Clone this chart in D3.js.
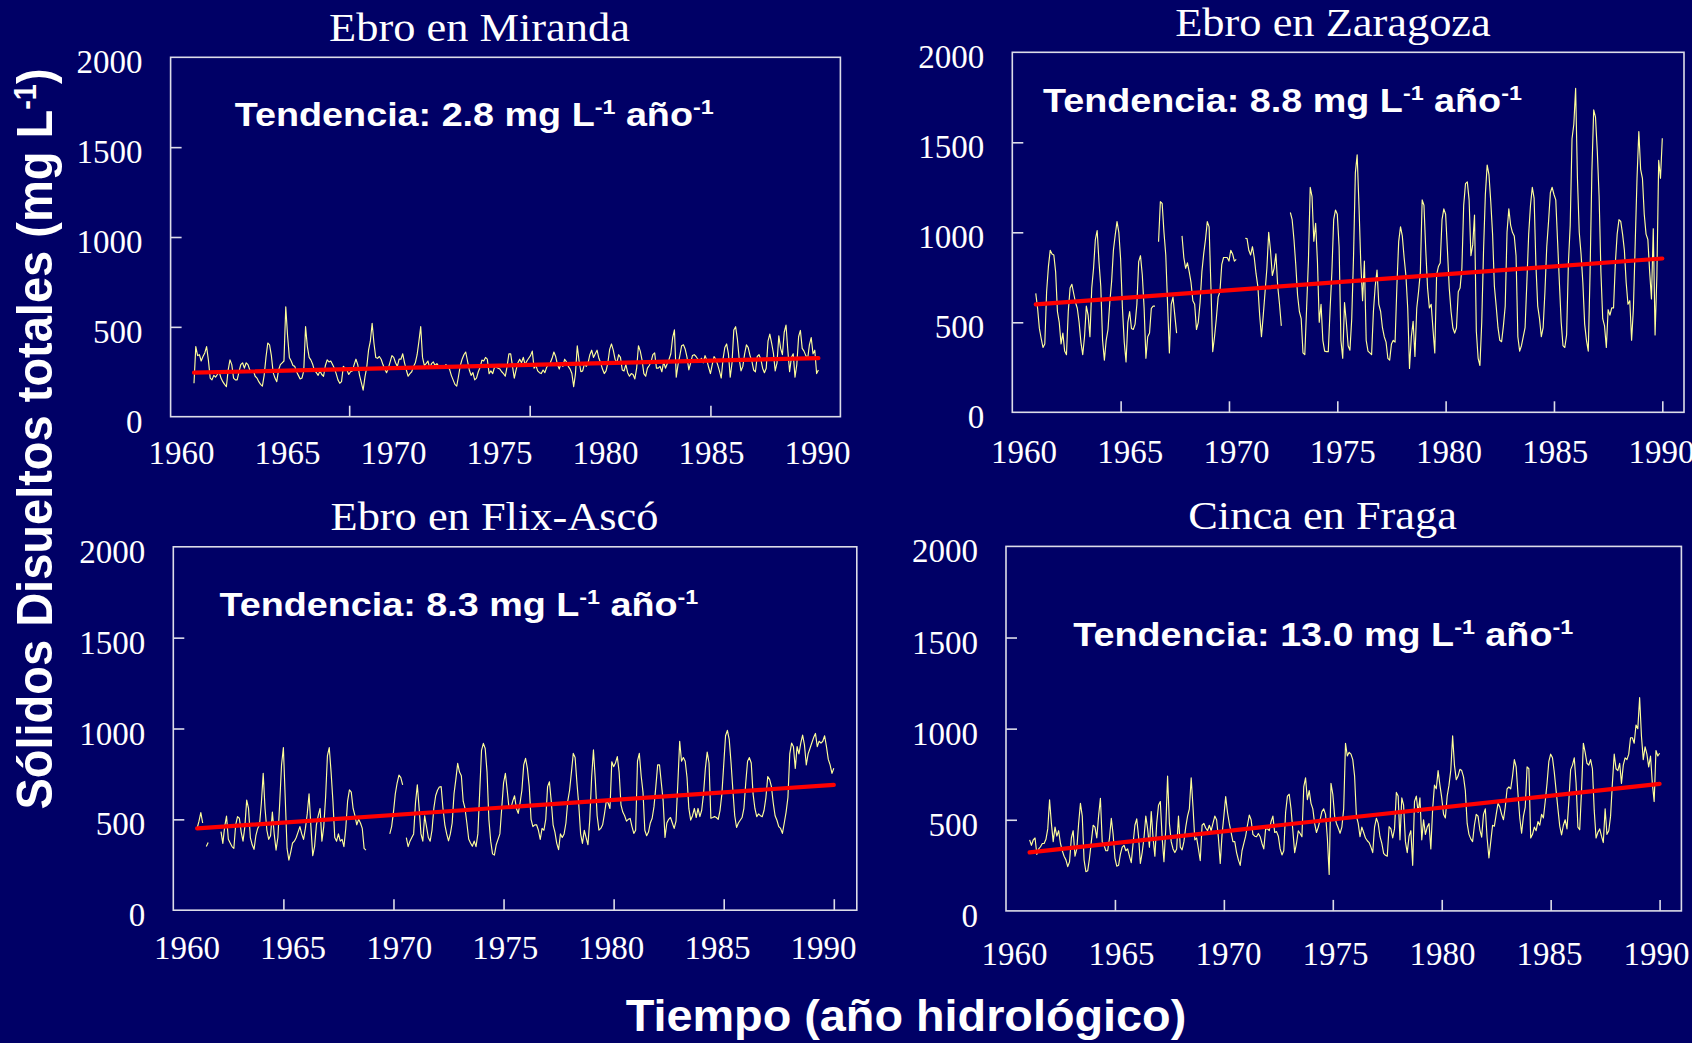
<!DOCTYPE html>
<html>
<head>
<meta charset="utf-8">
<script src="https://cdn.jsdelivr.net/npm/d3@7"></script>
<style>
  html, body { margin: 0; padding: 0; background: #000066; overflow: hidden; }
  svg { display: block; }
</style>
</head>
<body>
<svg id="chart" width="1692" height="1043"></svg>
<script>
// Monthly total dissolved solids (mg/L), first value = Feb 1961 (hydrological series), null = no sample
const startYear = 1961 + 1 / 12;

const mirandaTDS = [
186,390,340,345,310,335,355,390,315,215,205,230,
220,235,250,215,195,180,167,260,316,290,215,205,
205,250,290,300,270,300,290,260,250,255,225,215,
195,180,170,230,330,410,400,340,245,215,195,260,
290,300,310,612,450,330,310,285,280,250,230,210,
215,255,501,390,330,315,290,255,245,230,255,235,
225,285,316,305,310,290,270,240,205,186,195,280,
270,260,235,250,255,290,320,290,230,190,148,220,
275,370,420,520,410,330,325,335,320,290,265,245,
270,305,340,330,300,280,320,320,350,300,260,225,
240,250,280,300,345,420,501,330,285,295,310,270,
295,305,285,295,280,280,285,275,290,280,265,230,
205,180,170,225,285,320,345,360,310,260,230,245,
205,215,250,275,315,310,330,320,240,255,240,275,
275,270,265,250,240,225,280,350,350,280,214,260,
300,320,300,330,290,310,325,340,365,270,285,255,
245,240,260,245,275,290,300,325,360,335,290,265,
300,280,320,305,280,265,240,167,240,395,310,250,
255,295,280,300,345,370,330,350,370,325,300,265,
240,255,300,375,405,370,320,300,345,330,260,255,
290,245,225,240,235,210,270,395,365,315,240,225,
270,285,305,345,355,270,270,280,250,305,270,295,
320,350,440,483,220,290,340,395,400,375,330,260,
300,340,345,335,320,310,325,300,340,315,275,240,
290,335,320,290,255,215,320,385,405,350,220,300,
483,501,430,320,255,280,350,400,385,340,310,260,
250,335,345,320,270,245,270,420,460,410,353,255,
300,450,380,345,470,510,370,250,330,350,220,290,
445,480,380,365,340,320,400,440,350,370,240,260
];

const zaragozaTDS = [
661,578,466,410,360,380,670,809,900,880,874,780,
560,500,380,440,340,320,560,690,711,660,610,578,
500,390,320,420,590,540,420,690,800,960,1010,837,
700,400,290,400,460,610,726,900,985,1060,1000,850,
578,390,280,500,560,466,460,490,600,837,870,763,
580,300,420,440,578,590,590,null,948,1170,1160,1000,
874,600,330,600,640,540,440,null,null,980,860,800,
830,780,720,620,600,460,500,610,780,880,960,1059,
1030,700,337,420,520,640,670,820,860,860,860,840,
900,880,840,850,null,null,null,null,967,965,900,874,
920,860,770,700,540,420,540,670,800,1000,900,760,
800,880,700,600,480,null,null,null,null,1110,1070,960,
820,650,560,520,330,320,578,840,1250,1200,950,1050,
837,500,600,400,340,337,337,570,780,1070,1124,1100,
920,400,300,610,500,370,345,520,870,1330,1430,1150,
830,620,840,400,340,330,320,560,700,790,600,560,
470,420,390,300,290,380,400,390,700,948,1031,980,
860,760,578,244,420,505,310,578,670,780,1180,1150,
900,690,580,600,460,330,763,810,830,1070,1130,1100,
900,690,560,470,440,470,670,690,800,1150,1270,1280,
1180,870,930,1096,450,300,260,500,900,1210,1374,1320,
1170,990,700,590,470,400,392,480,590,1000,1130,1040,
1000,980,870,420,340,370,420,470,726,990,1150,1250,
1190,820,590,520,420,470,670,920,1060,1220,1250,1210,
1180,950,720,500,370,360,430,830,1040,1520,1600,1800,
1300,1000,880,720,490,400,340,780,1337,1680,1640,1450,
1200,780,520,480,360,570,540,580,580,830,990,1070,
1060,990,900,720,600,620,400,578,940,1300,1560,1350,
1300,1100,990,960,780,630,1020,430,760,1400,1300,1522
];

const flixTDS = [
451,490,537,480,null,350,372,null,null,null,null,null,
null,432,368,460,518,390,370,350,340,470,515,506,
430,380,460,606,560,400,360,335,410,450,470,590,
753,560,440,390,410,540,420,331,400,590,800,895,
620,340,276,320,370,380,400,430,460,420,390,450,
530,640,460,300,350,470,520,560,380,460,620,850,
895,760,600,400,380,420,380,390,350,450,600,662,
650,560,520,470,500,480,450,340,331,null,null,null,
null,null,null,null,null,null,null,null,null,420,460,540,
640,700,744,730,690,null,400,350,380,400,420,590,
690,560,420,380,520,460,400,380,440,560,630,660,
678,680,560,470,420,382,420,480,640,720,808,760,
740,600,560,480,392,370,352,380,350,420,650,880,
918,890,760,500,380,310,303,360,390,420,560,700,
753,660,560,560,600,630,560,533,590,660,800,836,
780,680,500,460,470,470,440,390,450,440,500,680,
707,600,470,430,368,333,420,400,420,480,600,660,
760,863,840,700,580,420,368,440,400,360,500,730,
882,720,520,441,450,470,530,600,590,560,817,790,
810,845,760,580,540,520,490,500,505,460,423,440,
820,863,740,650,440,410,430,480,506,570,680,800,
800,700,600,400,480,500,510,480,450,490,700,930,
820,840,820,730,560,496,520,560,510,560,515,550,
640,780,870,810,506,510,515,510,500,550,640,800,
960,990,940,810,660,520,455,480,495,510,560,700,
820,840,810,640,560,515,530,520,515,550,620,735,
720,680,590,520,495,460,450,423,480,540,620,860,
920,900,780,900,860,920,964,910,800,860,890,920,
950,973,900,930,920,930,960,900,830,800,753,781
];

const fragaTDS = [
390,360,389,400,310,340,352,370,370,393,450,609,
480,380,460,410,440,370,330,300,280,243,270,400,
440,300,340,480,590,520,280,215,220,290,380,470,
460,400,520,618,380,360,330,330,400,508,420,290,
245,250,310,350,360,330,340,300,265,370,470,505,
410,260,320,400,520,450,350,545,400,300,480,580,
600,400,270,450,740,480,380,340,320,340,520,350,
335,380,460,520,560,730,570,390,400,340,275,470,
480,455,440,470,440,480,520,500,400,260,420,520,
627,540,480,430,380,380,320,280,250,330,370,410,
470,526,500,420,410,407,425,407,370,340,450,450,
440,490,520,430,435,410,340,307,330,540,630,640,
560,440,320,370,440,425,407,680,730,610,660,590,
560,480,430,460,500,545,560,530,400,200,700,640,
520,480,455,426,460,560,920,850,870,860,830,740,
520,480,407,460,430,400,385,375,350,320,460,508,
480,407,370,316,305,300,462,450,400,450,650,630,
390,620,580,380,320,410,440,250,600,630,540,620,
390,500,420,460,480,340,560,690,670,770,690,620,
530,510,630,690,773,960,800,720,740,777,770,735,
660,480,420,395,380,470,530,520,445,405,530,560,
400,290,380,470,465,530,590,570,530,500,570,670,
680,670,740,830,790,640,510,426,520,570,790,780,
400,420,460,440,490,470,530,510,600,700,820,860,
840,760,660,560,465,417,470,500,450,600,775,800,
840,700,460,445,660,920,870,810,800,830,780,550,
400,430,450,410,375,560,420,440,520,700,860,780,
770,810,700,800,840,830,860,950,950,920,1020,1000,
1170,960,830,900,860,790,850,700,600,880,850,865
];

// Station names, fitted trends (slope in mg/L per year, level at series start)
const stations = ["Ebro en Miranda", "Ebro en Zaragoza", "Ebro en Flix-Ascó", "Cinca en Fraga"];
const trendSlopes = [2.8, 8.8, 8.3, 13.0];
const trendStart = [245, 600, 450, 321];

// Axis values
const yTickValues = [0, 500, 1000, 1500, 2000];
const yInnerTicks = [500, 1000, 1500];
const yearLabels = [1960, 1965, 1970, 1975, 1980, 1985, 1990];
const mirandaTickYears = [1968.27, 1976.63, 1985.0];
const fiveYearTicks = [1965, 1970, 1975, 1980, 1985, 1990];

const series = [mirandaTDS, zaragozaTDS, flixTDS, fragaTDS];
const tickYears = [mirandaTickYears, fiveYearTicks, fiveYearTicks, fiveYearTicks];

// Panel geometry (page pixels)
const layout = [
  { l: 170.6, r: 840.4, t: 57.3, b: 416.7, x90: 818.4, lab: [181, 817], labY: 463.5,
    titleX: 479.5, titleY: 40.7, noteX: 234.8, noteY: 126 },
  { l: 1012.3, r: 1684, t: 52.3, b: 412.3, x90: 1662.3, lab: [1023.4, 1661], labY: 463.3,
    titleX: 1333, titleY: 36, noteX: 1043, noteY: 111.7 },
  { l: 173.3, r: 856.8, t: 546.8, b: 910.2, x90: 833.8, lab: [186.5, 823], labY: 959,
    titleX: 494.5, titleY: 530.3, noteX: 219.4, noteY: 615.7 },
  { l: 1006, r: 1681.4, t: 546.4, b: 910.9, x90: 1659.6, lab: [1014, 1656], labY: 964.5,
    titleX: 1322.6, titleY: 528.5, noteX: 1073.3, noteY: 645.9 }
];

const BG = "#000066";
const FRAME = "#dcdce8";
const SERIF = "'Liberation Serif', 'Times New Roman', serif";
const SANS = "'Liberation Sans', Arial, sans-serif";

const svg = d3.select("#chart");
svg.append("rect").attr("width", 1692).attr("height", 1043).attr("fill", BG);

series.forEach((values, k) => {
  const L = layout[k];
  const g = svg.append("g");

  const x = d3.scaleLinear().domain([1960, 1990]).range([L.l, L.x90]);
  const xLab = d3.scaleLinear().domain([1960, 1990]).range(L.lab);
  const y = d3.scaleLinear().domain([0, 2000]).range([L.b, L.t]);

  // plot frame
  g.append("rect")
    .attr("x", L.l).attr("y", L.t)
    .attr("width", L.r - L.l).attr("height", L.b - L.t)
    .attr("fill", "none").attr("stroke", FRAME).attr("stroke-width", 1.6);

  // inward tick marks on the value axis
  const yTicksG = g.append("g").attr("transform", `translate(${L.l},0)`)
    .call(d3.axisLeft(y).tickValues(yInnerTicks).tickSizeInner(-11).tickSizeOuter(0).tickFormat(""));
  yTicksG.select(".domain").remove();
  yTicksG.selectAll("line").attr("stroke", FRAME).attr("stroke-width", 1.6);

  // value labels
  const yLabG = g.append("g").attr("transform", `translate(${L.l},5)`)
    .call(d3.axisLeft(y).tickValues(yTickValues).tickSize(0).tickPadding(28).tickFormat(d3.format("d")));
  yLabG.select(".domain").remove();
  yLabG.selectAll("text")
    .attr("fill", "#fff").style("font-family", SERIF).style("font-size", "33px");

  // inward tick marks on the time axis
  const xTicksG = g.append("g").attr("transform", `translate(0,${L.b})`)
    .call(d3.axisBottom(x).tickValues(tickYears[k]).tickSizeInner(-11).tickSizeOuter(0).tickFormat(""));
  xTicksG.select(".domain").remove();
  xTicksG.selectAll("line").attr("stroke", FRAME).attr("stroke-width", 1.6);

  // year labels
  const xLabG = g.append("g").attr("transform", `translate(0,${L.labY})`)
    .call(d3.axisBottom(xLab).tickValues(yearLabels).tickSize(0).tickFormat(d3.format("d")));
  xLabG.select(".domain").remove();
  xLabG.selectAll("text")
    .attr("y", 0).attr("dy", 0)
    .attr("fill", "#fff").style("font-family", SERIF).style("font-size", "33px");

  // monthly series
  const pts = values.map((v, i) => ({ t: startYear + i / 12, v }));
  const line = d3.line()
    .defined(d => d.v != null)
    .x(d => x(d.t)).y(d => y(d.v));
  g.append("path").datum(pts)
    .attr("d", line)
    .attr("fill", "none")
    .attr("stroke", "#ffff99")
    .attr("stroke-width", 1.15)
    .attr("stroke-linejoin", "round");

  // linear trend
  const t0 = startYear, t1 = startYear + (values.length - 1) / 12;
  const trend = [t0, t1].map(t => ({ t, v: trendStart[k] + trendSlopes[k] * (t - t0) }));
  g.append("path").datum(trend)
    .attr("d", d3.line().x(d => x(d.t)).y(d => y(d.v)))
    .attr("stroke", "#ff0000").attr("stroke-width", 4.2)
    .attr("stroke-linecap", "round").attr("fill", "none");

  // station title
  g.append("text")
    .attr("transform", `translate(${L.titleX},${L.titleY}) scale(1.11,1)`)
    .attr("text-anchor", "middle")
    .attr("fill", "#fff").style("font-family", SERIF).style("font-size", "40px")
    .text(stations[k]);

  // trend annotation
  const note = g.append("text")
    .attr("transform", `translate(${L.noteX},${L.noteY}) scale(1.11,1)`)
    .attr("fill", "#fff").style("font-family", SANS).style("font-size", "34px")
    .style("font-weight", "bold");
  note.append("tspan").text(`Tendencia: ${trendSlopes[k].toFixed(1)} mg L`);
  note.append("tspan").attr("dy", -12).style("font-size", "21px").text("-1");
  note.append("tspan").attr("dy", 12).text(" año");
  note.append("tspan").attr("dy", -12).style("font-size", "21px").text("-1");
});

// shared axis titles
const yTitle = svg.append("text")
  .attr("transform", "translate(52,439) scale(1.06,1) rotate(-90)")
  .attr("text-anchor", "middle")
  .attr("fill", "#fff").style("font-family", SANS).style("font-size", "47px")
  .style("font-weight", "bold");
yTitle.append("tspan").text("Sólidos Disueltos totales (mg L");
yTitle.append("tspan").attr("dy", -15).style("font-size", "29px").text("-1");
yTitle.append("tspan").attr("dy", 15).text(")");

svg.append("text")
  .attr("transform", "translate(906,1031) scale(1.04,1)")
  .attr("text-anchor", "middle")
  .attr("fill", "#fff").style("font-family", SANS).style("font-size", "45px")
  .style("font-weight", "bold")
  .text("Tiempo (año hidrológico)");
</script>
</body>
</html>
